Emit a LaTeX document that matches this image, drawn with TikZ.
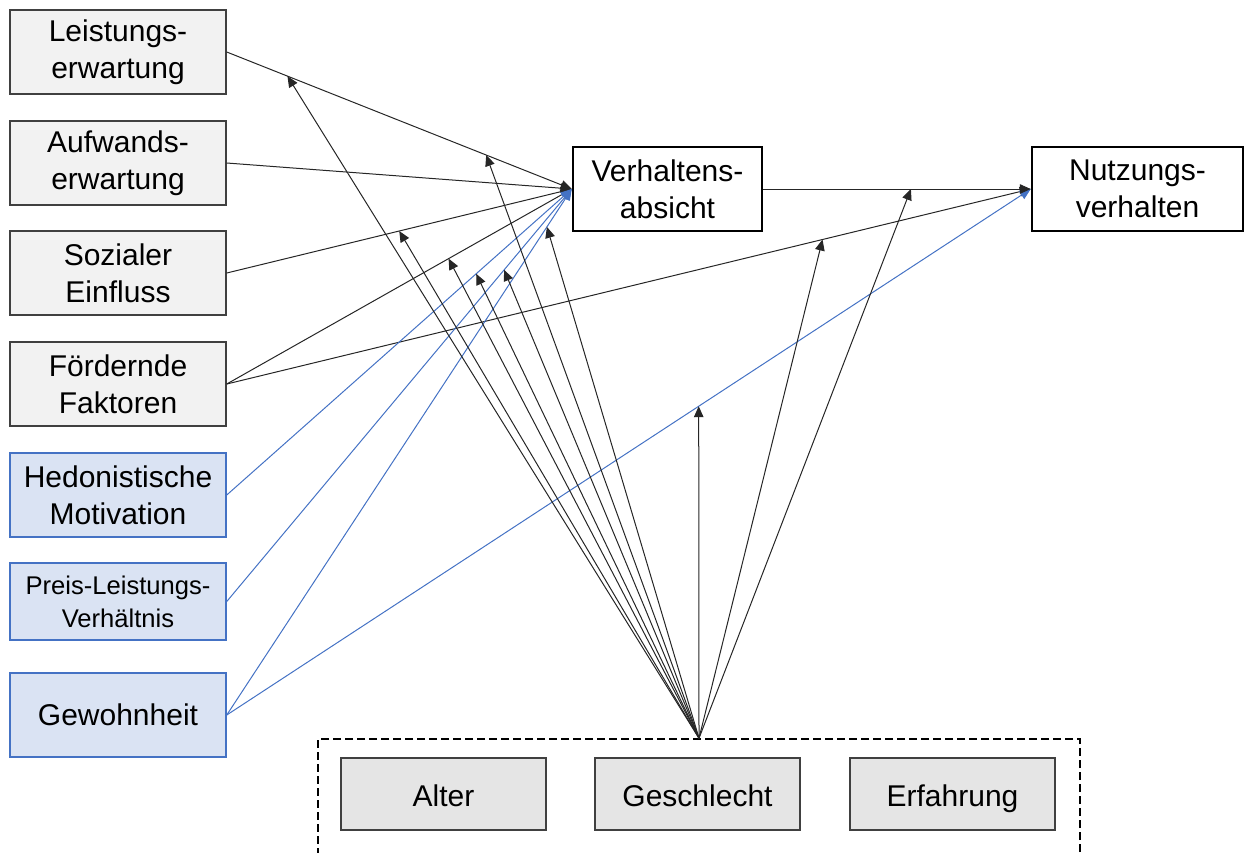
\documentclass[tikz,border=0pt]{standalone}
\usepackage{fontspec}
\setmainfont{Liberation Sans}
\usetikzlibrary{arrows.meta,calc}
\definecolor{blaurand}{HTML}{4472C4}
\definecolor{blaufill}{HTML}{DAE3F3}
\definecolor{blaulinie}{HTML}{5B8BD9}

\begin{document}
\begin{tikzpicture}
[x=0.5pt,y=-0.5pt,>={Triangle[length=5.5pt,width=4.8pt]},
konstrukt/.style={draw=black!75,fill=black!5,line width=0.75pt,inner sep=0pt,minimum width=108pt,minimum height=42pt,align=center,font=\fontsize{15}{18.5}\selectfont},
neu/.style={konstrukt,draw=blaurand,fill=blaufill},
ziel/.style={konstrukt,draw=black,fill=white,line width=1.25pt,minimum width=94.5pt},
moderator/.style={konstrukt,fill=black!10,minimum width=102.5pt,minimum height=36pt,text height=12pt,text depth=0pt},
pfad/.style={->,draw=black!85,line width=0.5pt},
pfadneu/.style={->,draw=blaulinie,line width=0.5pt,blaurand},]
\useasboundingbox (0,0) rectangle (1246,852);

% Konstrukte links
\node (LE) at (118,52)[konstrukt]{Leistungs-\\erwartung};
\node (AE) at (118,163)[konstrukt]{Aufwands-\\erwartung};
\node (SE) at (118,273)[konstrukt]{Sozialer\\Einfluss};
\node (FF) at (118,384)[konstrukt]{Fördernde\\Faktoren};
\node (HM) at (118,495)[neu]{Hedonistische\\Motivation};
\node (PL) at (118,601.5)[neu,minimum height=38.5pt,font=\fontsize{12.8}{16.5}\selectfont]{Preis-Leistungs-\\Verhältnis};
\node (GW) at (118,715)[neu]{Gewohnheit};

% Zielkonstrukte
\node (VA) at (667.5,189)[ziel]{Verhaltens-\\absicht};
\node (NV) at (1137.5,189)[ziel,minimum width=105.5pt]{Nutzungs-\\verhalten};

% Moderatoren
\node (MOD) at (699,804.5)[draw=black,dash pattern=on 4pt off 2pt,line width=0.75pt,minimum width=381pt,minimum height=65.5pt,inner sep=0pt]{};
\coordinate (fan) at (MOD.north);
\node (AL) at (443.5,794)[moderator]{Alter};
\node (GE) at (697.5,794)[moderator]{Geschlecht};
\node (ER) at (952.5,794)[moderator]{Erfahrung};

\draw[pfad] (LE.east)--(VA.west);
\draw[pfad] (AE.east)--(VA.west);
\draw[pfad] (SE.east)--(VA.west);
\draw[pfad] (FF.east)--(VA.west);
\draw[pfad] (FF.east)--(NV.west);
\draw[pfadneu] (HM.east)--(VA.west);
\draw[pfadneu] (PL.east)--(VA.west);
\draw[pfadneu] (GW.east)--(VA.west);
\draw[pfadneu] (GW.east)--(NV.west);
\draw[pfad] (VA.east)--(NV.west);

% moderierende Effekte
\draw[pfad] (fan)--($(LE.east)!0.176!(VA.west)$);
\draw[pfad] (fan)--($(LE.east)!0.752!(VA.west)$);
\draw[pfad] (fan)--($(SE.east)!0.50!(VA.west)$);
\draw[pfad] (fan)--($(FF.east)!0.643!(VA.west)$);
\draw[pfad] (fan)--($(HM.east)!0.723!(VA.west)$);
\draw[pfad] (fan)--($(PL.east)!0.804!(VA.west)$);
\draw[pfad] (fan)--($(GW.east)!0.928!(VA.west)$);
\draw[pfad] (fan)--($(GW.east)!0.587!(NV.west)$);
\draw[pfad] (fan)--($(FF.east)!0.741!(NV.west)$);
\draw[pfad] (fan)--($(VA.east)!0.552!(NV.west)$);

\end{tikzpicture}
\end{document}
